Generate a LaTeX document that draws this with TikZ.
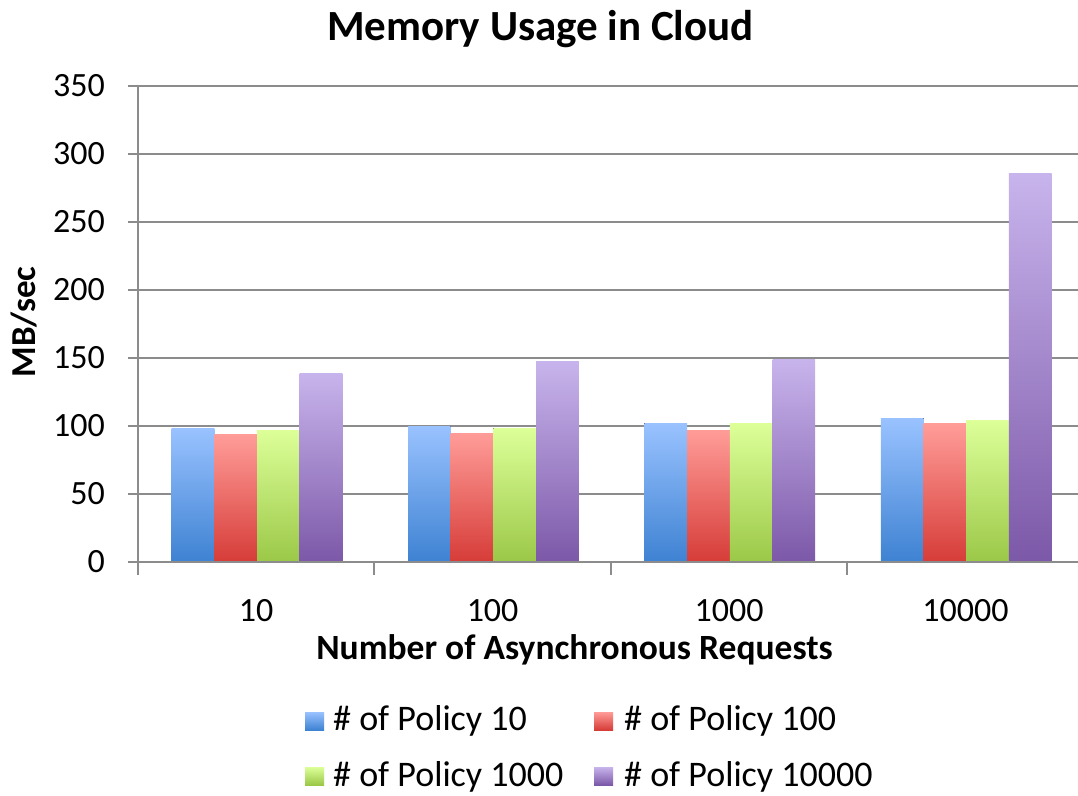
\documentclass[tikz,border=0pt]{standalone}
\usepackage{fontspec}
\setmainfont{Carlito}
\begin{document}
\begin{tikzpicture}[x=1pt,y=-1pt,
  gridline/.style={draw=black!45,line width=2pt},
  axisline/.style={draw=black!45,line width=2pt},
  ticklbl/.style={font=\fontsize{34}{40}\selectfont,inner sep=0pt},
  legtxt/.style={font=\fontsize{36}{42}\selectfont,anchor=base west,inner sep=0pt},
  sblue/.style={top color=blueT,bottom color=blueB,draw=none},
  sred/.style={top color=redT,bottom color=redB,draw=none},
  sgreen/.style={top color=greenT,bottom color=greenB,draw=none},
  spurple/.style={top color=purpleT,bottom color=purpleB,draw=none}]
\definecolor{blueT}{RGB}{153,194,255}
\definecolor{blueB}{RGB}{62,130,210}
\definecolor{redT}{RGB}{255,156,152}
\definecolor{redB}{RGB}{214,60,56}
\definecolor{greenT}{RGB}{220,255,152}
\definecolor{greenB}{RGB}{155,200,72}
\definecolor{purpleT}{RGB}{200,180,236}
\definecolor{purpleB}{RGB}{124,88,168}
\useasboundingbox (0,0) rectangle (1078,795);
\fill[white] (0,0) rectangle (1078,795);

% title
\node[font=\fontsize{43}{50}\selectfont\bfseries,inner sep=0pt] (title) at (540.5,29) {Memory Usage in Cloud};

% horizontal grid lines and y tick labels
\foreach \v in {50,100,...,350}{
  \draw[gridline] (128,{562-1.36*\v}) -- (1078,{562-1.36*\v});
}
\foreach \v in {0,50,...,350}{
  \node[ticklbl,anchor=east] (yl\v) at (105,{562-1.36*\v}) {\v};
}

% bars: value -> pixel height 1.36 per unit
\def\barw{42.7}
\foreach \g/\a/\b/\c/\d in {0/98.3/93.4/97/138.7, 1/100/94.6/98.3/147.3, 2/102/97/101.5/149, 3/105.7/101.5/103.7/285.3}{
  \pgfmathsetmacro\xs{138+\g*236.4+33.6}
  \fill[sblue]   (\xs,562) rectangle ({\xs+\barw},{562-1.36*\a});
  \fill[sred]    ({\xs+\barw},562) rectangle ({\xs+2*\barw},{562-1.36*\b});
  \fill[sgreen]  ({\xs+2*\barw},562) rectangle ({\xs+3*\barw},{562-1.36*\c});
  \fill[spurple] ({\xs+3*\barw},562) rectangle ({\xs+4*\barw},{562-1.36*\d});
}

% axes
\draw[axisline] (128,562) -- (1078,562);
\draw[axisline] (138,86) -- (138,575);
\foreach \g in {1,2,3}{
  \draw[axisline] ({138+\g*236.4},562) -- ({138+\g*236.4},575);
}

% category labels
\foreach \g/\t in {0/10,1/100,2/1000,3/10000}{
  \node[ticklbl] (xl\g) at ({138+(\g+0.5)*236.4},611) {\t};
}

% axis titles
\node[font=\fontsize{35.5}{42}\selectfont\bfseries,anchor=base,inner sep=0pt] (xtitle) at (574.5,659) {Number of Asynchronous Requests};
\node[font=\fontsize{35}{42}\selectfont\bfseries,rotate=90,inner sep=0pt] (ytitle) at (24,322) {MB/sec};

% legend
\fill[sblue]   (305,712) rectangle (324,730);
\node[legtxt] (l1) at (333,730) {\# of Policy 10};
\fill[sred]    (594,712) rectangle (613,730);
\node[legtxt] (l2) at (624,730) {\# of Policy 100};
\fill[sgreen]  (305,767) rectangle (324,785);
\node[legtxt] (l3) at (333,786) {\# of Policy 1000};
\fill[spurple] (594,767) rectangle (613,785);
\node[legtxt] (l4) at (624,786) {\# of Policy 10000};
\end{tikzpicture}
\end{document}
